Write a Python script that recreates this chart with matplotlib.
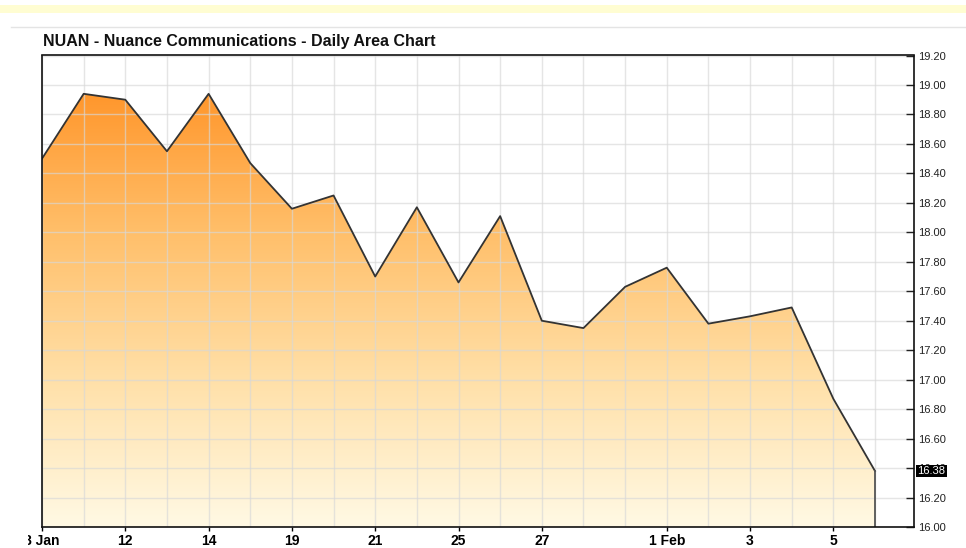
import numpy as np
import matplotlib.pyplot as plt
from matplotlib import font_manager
from matplotlib.colors import LinearSegmentedColormap
from matplotlib.patches import Polygon, Rectangle
from matplotlib.transforms import Bbox

# daily closes
closes = [18.50, 18.94, 18.90, 18.55, 18.94, 18.47, 18.16, 18.25, 17.70, 18.17,
          17.66, 18.11, 17.40, 17.35, 17.63, 17.76, 17.38, 17.43, 17.49, 16.87, 16.38]
tick_idx = [0, 2, 4, 6, 8, 10, 12, 15, 17, 19]
tick_labels = ['8 Jan', '12', '14', '19', '21', '25', '27', '1 Feb', '3', '5']
y_ticks = np.round(np.arange(16.0, 19.21, 0.2), 2)
last_label = '16.38'

# the axis labels use a narrow face; use one if there is one installed
narrow = ['Liberation Sans', 'DejaVu Sans']
for name in ['Liberation Sans Narrow', 'DejaVu Sans Condensed']:
    try:
        font_manager.findfont(font_manager.FontProperties(family=name), fallback_to_default=False)
        narrow = [name, 'DejaVu Sans']
        break
    except ValueError:
        pass

W, H = 966, 548
fig = plt.figure(figsize=(W / 100, H / 100), dpi=100)
fig.patch.set_facecolor('white')

# top decoration: pale yellow band and thin grey rule
fig.add_artist(Rectangle((0, 1 - 13 / H), 1, 8 / H, transform=fig.transFigure,
                         facecolor='#fffdd2', edgecolor='none'))
fig.add_artist(plt.Line2D([11 / W, 1], [1 - 26.5 / H] * 2, transform=fig.transFigure,
                          color='#e4e4e4', lw=1))

ax = fig.add_axes([42 / W, 21 / H, (914 - 42) / W, (527 - 55.5) / H])
x = np.arange(len(closes))
ymin, ymax = 16.0, 19.2
ax.set_xlim(0, (914 - 42) / 41.65)
ax.set_ylim(ymin, ymax)

# gradient fill under the line
cmap = LinearSegmentedColormap.from_list('ora', ['#fff9e4', '#ffe0a8', '#ffbf6a', '#ff9428'])
grad = np.linspace(0, 1, 256).reshape(-1, 1)
im = ax.imshow(grad, cmap=cmap, aspect='auto', origin='lower',
               extent=[0, len(closes) - 1, ymin, 19.0], zorder=1)
poly = Polygon(np.column_stack([np.r_[x, x[-1], 0], np.r_[closes, ymin, ymin]]),
               closed=True, facecolor='none', edgecolor='none', transform=ax.transData)
ax.add_patch(poly)
im.set_clip_path(poly)

ax.plot(x, closes, color='#333333', lw=1.3, zorder=4)
ax.plot([x[-1], x[-1]], [closes[-1], ymin], color='#555555', lw=1.3, zorder=4)

# grid
ax.set_xticks(tick_idx)
ax.set_xticks(x, minor=True)
ax.set_yticks(y_ticks)
ax.grid(True, which='both', axis='x', color='#d8d8d8', lw=1.0, alpha=0.65, zorder=3)
ax.grid(True, which='major', axis='y', color='#d8d8d8', lw=1.0, alpha=0.65, zorder=3)
ax.set_axisbelow(False)

for s in ax.spines.values():
    s.set_color('#111111')
    s.set_linewidth(1.2)
    s.set_zorder(5)

ax.yaxis.tick_right()
ysize = 8.5 if narrow[0] != 'Liberation Sans' else 8
ax.tick_params(axis='y', which='major', direction='in', length=6, width=1, color='#222222',
               pad=3, labelsize=ysize, labelcolor='#222222', left=False)
ax.tick_params(axis='x', which='major', direction='out', length=3, width=1,
               labelsize=10, pad=2)
ax.tick_params(axis='x', which='minor', length=0)

ylabels = ['%.2f' % v for v in y_ticks]
ax.set_yticklabels(ylabels, family=narrow)
ax.set_xticklabels(tick_labels, fontweight='bold', family=['Liberation Sans', 'DejaVu Sans'])

# first label is cut off at the left of the image
clip = Bbox.from_extents(28, 0, W, H)
ax.get_xticklabels()[0].set_clip_box(clip)
ax.get_xticklabels()[0].set_clip_on(True)

# current value marker
ax.text(1.004, closes[-1], last_label, transform=ax.get_yaxis_transform(),
        ha='left', va='center', color='white', fontsize=ysize, family=narrow,
        bbox=dict(boxstyle='square,pad=0.1', facecolor='black', edgecolor='none'), zorder=6)

fig.text(43 / W, 1 - 46 / H, 'NUAN - Nuance Communications - Daily Area Chart',
         fontsize=11.5, fontweight='bold', family=['Liberation Sans', 'DejaVu Sans'],
         color='#111111', ha='left', va='baseline')

fig.savefig('out.png', dpi=100)
